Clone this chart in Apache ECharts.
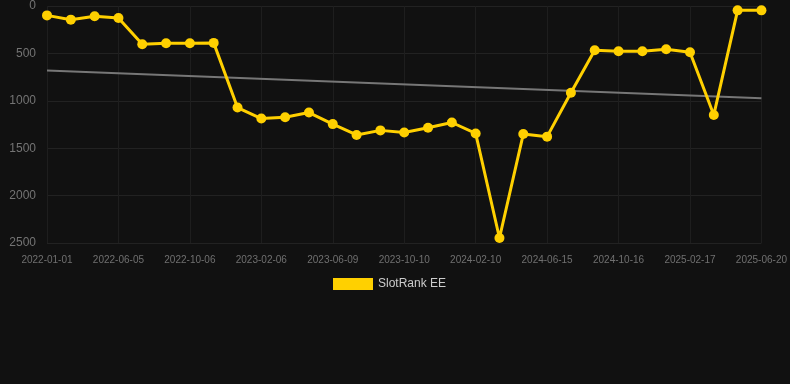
<!DOCTYPE html>
<html>
<head>
<meta charset="utf-8">
<script src="https://cdn.jsdelivr.net/npm/echarts@6/dist/echarts.min.js"></script>
<style>
html,body{margin:0;padding:0;background:#111111;}
#chart{width:790px;height:384px;}
</style>
</head>
<body>
<div id="chart"></div>
<script>
const categories = ["2022-01-01","2022-02-22","2022-04-15","2022-06-05","2022-07-16","2022-08-26","2022-10-06","2022-11-16","2022-12-27","2023-02-06","2023-03-19","2023-04-29","2023-06-09","2023-07-20","2023-08-30","2023-10-10","2023-11-20","2023-12-31","2024-02-10","2024-03-22","2024-05-04","2024-06-15","2024-07-26","2024-09-05","2024-10-16","2024-11-26","2025-01-07","2025-02-17","2025-03-30","2025-05-10","2025-06-20"];
const rankValues = [99,144,109,127,403,392,392,389,1071,1187,1173,1124,1246,1360,1312,1335,1285,1229,1344,2447,1351,1378,915,466,477,477,456,487,1149,46,46];
const trendValues = [680,null,null,null,null,null,null,null,null,null,null,null,null,null,null,null,null,null,null,null,null,null,null,null,null,null,null,null,null,null,973];
const yTicks = {min:0,max:2500,interval:500};

const chart = echarts.init(document.getElementById('chart'));
chart.setOption({
  backgroundColor:'#111111',
  animation:false,
  grid:{left:47,right:28,top:5,bottom:141},
  legend:{
    data:['SlotRank EE'],
    top:273,left:328,
    itemWidth:40,itemHeight:12,itemGap:10,
    textStyle:{color:'#cccccc',fontSize:12,fontFamily:'Arial, Liberation Sans, sans-serif'},
    icon:'rect'
  },
  xAxis:{
    type:'category',
    data:categories,
    boundaryGap:false,
    axisLine:{show:false},
    axisTick:{show:false},
    axisLabel:{interval:2,color:'#707070',fontSize:10,margin:12,fontFamily:'Arial, Liberation Sans, sans-serif'},
    splitLine:{show:true,interval:2,lineStyle:{color:'#1e1e1e',width:1}}
  },
  yAxis:{
    type:'value',
    inverse:true,
    min:yTicks.min,max:yTicks.max,interval:yTicks.interval,
    axisLine:{show:false},
    axisTick:{show:false},
    axisLabel:{color:'#747474',fontSize:12,margin:11,fontFamily:'Arial, Liberation Sans, sans-serif',formatter:function(v){return String(v);}},
    splitLine:{lineStyle:{color:'#222222',width:1}}
  },
  series:[
    {
      name:'SlotRank EE',
      type:'line',
      data:rankValues,
      itemStyle:{color:'#FFD000'},
      lineStyle:{color:'#FFD000',width:3},
      symbol:'circle',
      symbolSize:10,
      z:3
    },
    {
      name:'Trend',
      type:'line',
      data:trendValues,
      connectNulls:true,
      showSymbol:false,
      symbol:'none',
      lineStyle:{color:'#777777',width:2},
      itemStyle:{color:'#777777'},
      z:2
    }
  ]
});
</script>
</body>
</html>
